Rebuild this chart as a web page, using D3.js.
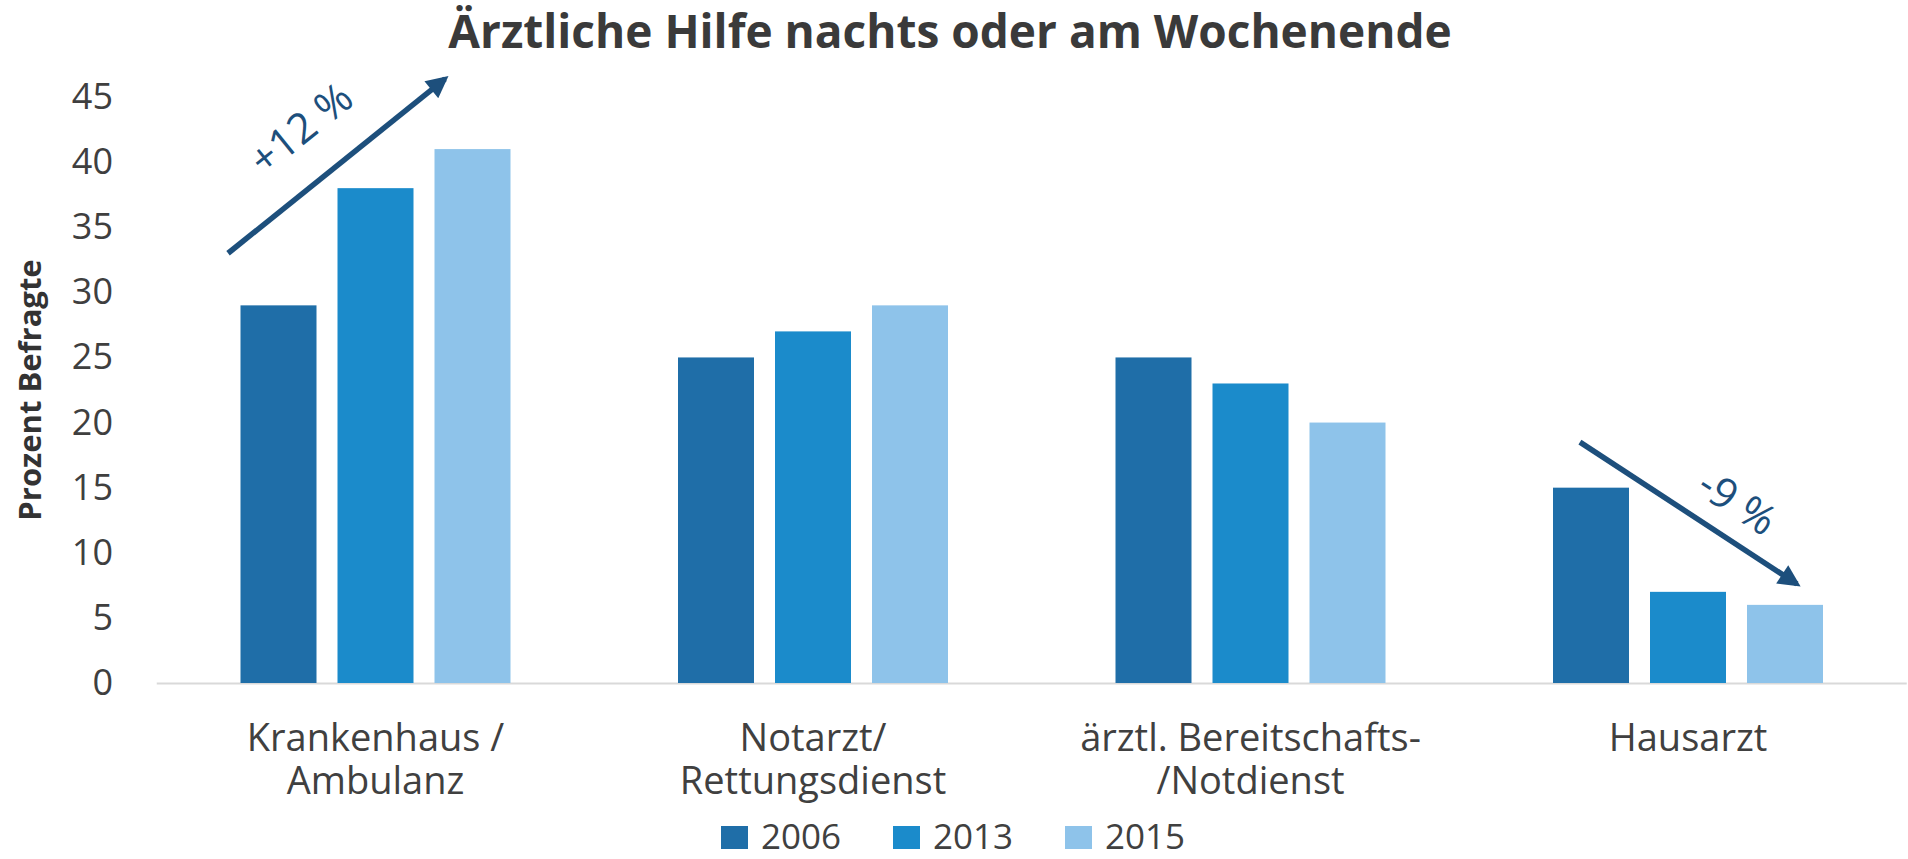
<!DOCTYPE html>
<html>
<head>
<meta charset="utf-8">
<script src="https://cdn.jsdelivr.net/npm/d3@7"></script>
<style>
  html, body { margin: 0; padding: 0; background: #ffffff; }
  svg { display: block; font-family: 'Open Sans', 'Noto Sans', sans-serif; }
</style>
</head>
<body>
<svg id="canvas"></svg>
<script>
// Chart data
var categories = ['Krankenhaus / Ambulanz', 'Notarzt/ Rettungsdienst', 'ärztl. Bereitschafts- /Notdienst', 'Hausarzt'];
var categoryLines = [['Krankenhaus /', 'Ambulanz'], ['Notarzt/', 'Rettungsdienst'], ['ärztl. Bereitschafts-', '/Notdienst'], ['Hausarzt']];
var years = ['2006', '2013', '2015'];
var values2006 = [29, 25, 25, 15];
var values2013 = [38, 27, 23, 7];
var values2015 = [41, 29, 20, 6];
var yTicks = [0, 5, 10, 15, 20, 25, 30, 35, 40, 45];

// Trend arrows (category, position inside band 0..1, value)
var trendLabels = ['+12 %', '-9 %'];
var trendCategories = [categories[0], categories[3]];
var trendStart = [[0.163, 33.0], [0.253, 18.5]];
var trendEnd = [[0.659, 46.4], [0.749, 7.6]];
var trendText = [[0.327, 42.7], [0.615, 14.0]];

var canvasWidth = 1908;
var canvasHeight = 859;

var colors = ['#1f6ea8', '#1b8bcb', '#8ec3ea'];
var arrowColor = '#1d4f7c';

var svg = d3.select('#canvas')
  .attr('width', canvasWidth)
  .attr('height', canvasHeight);

var seriesValues = [values2006, values2013, values2015];
var data = categories.map(function(c, i) {
  return { category: c, values: years.map(function(y, j) { return { year: y, value: seriesValues[j][i] }; }) };
});

// Scales
var x0 = d3.scaleBand()
  .domain(categories)
  .range([156.75, 1906.75])
  .padding(0);

var groupWidth = 270;
var x1 = d3.scaleBand()
  .domain(years)
  .range([(x0.bandwidth() - groupWidth) / 2, (x0.bandwidth() + groupWidth) / 2])
  .paddingInner(0.2165)
  .paddingOuter(0);

var y = d3.scaleLinear()
  .domain([0, 45])
  .range([683, 97]);

var color = d3.scaleOrdinal().domain(years).range(colors);

// Title
svg.append('text')
  .attr('x', 950)
  .attr('y', 48)
  .attr('text-anchor', 'middle')
  .style('font-size', '46px')
  .style('font-weight', 'bold')
  .attr('fill', '#3a3a3a')
  .text('Ärztliche Hilfe nachts oder am Wochenende');

// Y axis (labels only)
var yAxis = svg.append('g')
  .attr('transform', 'translate(113,0)')
  .call(d3.axisLeft(y).tickValues(yTicks).tickSize(0).tickPadding(0));
yAxis.select('.domain').remove();
yAxis.selectAll('text')
  .style('font-family', "'Open Sans', sans-serif")
  .style('font-size', '36px')
  .attr('fill', '#3f3f3f');

// Y axis title
svg.append('text')
  .attr('transform', 'translate(41,390) rotate(-90)')
  .attr('text-anchor', 'middle')
  .style('font-size', '31px')
  .style('font-weight', 'bold')
  .attr('fill', '#333333')
  .text('Prozent Befragte');

// Baseline
svg.append('line')
  .attr('x1', x0.range()[0])
  .attr('x2', x0.range()[1])
  .attr('y1', y(0) + 0.5)
  .attr('y2', y(0) + 0.5)
  .attr('stroke', '#d9d9d9')
  .attr('stroke-width', 2);

// Bars
var groups = svg.append('g')
  .selectAll('.group')
  .data(data)
  .enter()
  .append('g')
  .attr('class', 'group')
  .attr('transform', function(d) { return 'translate(' + x0(d.category) + ',0)'; });

groups.selectAll('rect')
  .data(function(d) { return d.values; })
  .enter()
  .append('rect')
  .attr('x', function(d) { return x1(d.year); })
  .attr('y', function(d) { return y(d.value); })
  .attr('width', x1.bandwidth())
  .attr('height', function(d) { return y(0) - y(d.value); })
  .attr('fill', function(d) { return color(d.year); });

// Category labels
groups.append('text')
  .attr('text-anchor', 'middle')
  .style('font-size', '38px')
  .attr('fill', '#404040')
  .selectAll('tspan')
  .data(function(d, i) { return categoryLines[i]; })
  .enter()
  .append('tspan')
  .attr('x', x0.bandwidth() / 2)
  .attr('y', function(d, i) { return 751 + i * 43; })
  .text(function(d) { return d; });

// Legend
var legendStep = 172;
var legendLeft = canvasWidth / 2 - 233;
var legend = svg.append('g')
  .selectAll('.legend-item')
  .data(years)
  .enter()
  .append('g')
  .attr('transform', function(d, i) { return 'translate(' + (legendLeft + i * legendStep) + ',0)'; });

legend.append('rect')
  .attr('x', 0)
  .attr('y', 826)
  .attr('width', 27)
  .attr('height', 23)
  .attr('fill', function(d) { return color(d); });

legend.append('text')
  .attr('x', 40)
  .attr('y', 849)
  .style('font-size', '35px')
  .attr('fill', '#404040')
  .text(function(d) { return d; });

// Trend arrows
svg.append('defs').append('marker')
  .attr('id', 'arrowhead')
  .attr('viewBox', '0 0 10 10')
  .attr('refX', 8)
  .attr('refY', 5)
  .attr('markerWidth', 4.5)
  .attr('markerHeight', 4)
  .attr('orient', 'auto')
  .append('path')
  .attr('d', 'M0,0 L10,5 L0,10 Z')
  .attr('fill', arrowColor);

function bandX(cat, pos) {
  return x0(cat) + pos * x0.bandwidth();
}

trendLabels.forEach(function(label, i) {
  var cat = trendCategories[i];
  var sx = bandX(cat, trendStart[i][0]), sy = y(trendStart[i][1]);
  var ex = bandX(cat, trendEnd[i][0]), ey = y(trendEnd[i][1]);
  svg.append('line')
    .attr('x1', sx)
    .attr('y1', sy)
    .attr('x2', ex)
    .attr('y2', ey)
    .attr('stroke', arrowColor)
    .attr('stroke-width', 5.5)
    .attr('marker-end', 'url(#arrowhead)');

  var angle = Math.atan2(ey - sy, ex - sx) * 180 / Math.PI;
  svg.append('text')
    .attr('transform', 'translate(' + bandX(cat, trendText[i][0]) + ',' + y(trendText[i][1]) + ') rotate(' + angle + ')')
    .attr('text-anchor', 'middle')
    .attr('dominant-baseline', 'central')
    .style('font-size', '42px')
    .attr('fill', arrowColor)
    .text(label);
});
</script>
</body>
</html>
